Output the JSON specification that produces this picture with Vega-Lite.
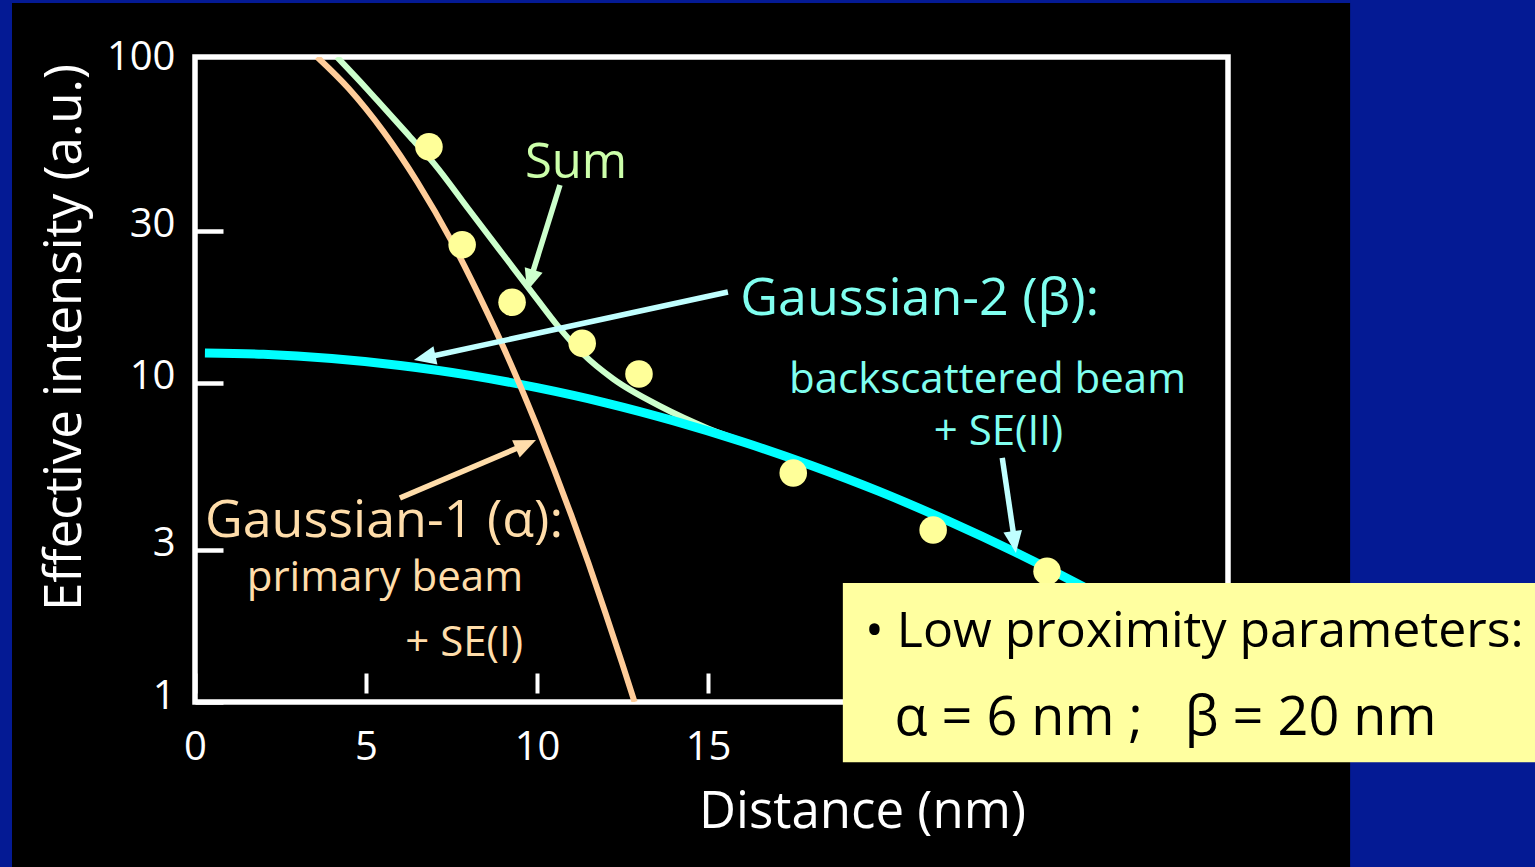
{
  "$schema": "https://vega.github.io/schema/vega-lite/v6.json",
  "width": 1033,
  "height": 645,
  "autosize": {"type": "none"},
  "padding": {"left": 195, "top": 57, "right": 307, "bottom": 165},
  "background": "#000000",
  "config": {
    "view": {"stroke": "#FFFFFF", "strokeWidth": 5.5},
    "font": "Open Sans",
    "axis": {
      "grid": false, "domain": false, "ticks": true, "tickSize": 28, "tickColor": "#FFFFFF",
      "labelColor": "#FFFFFF", "labelFont": "Open Sans", "labelFontSize": 40, "labelFlush": false, "labelOverlap": false,
      "titleColor": "#FFFFFF", "titleFont": "Open Sans", "titleFontSize": 51, "titleFontWeight": "normal"
    }
  },
  "datasets": {
    "curves": [
      {"series": "Sum", "x": 4.15, "y": 105},
      {"series": "Sum", "x": 5.0, "y": 84},
      {"series": "Sum", "x": 5.32, "y": 77},
      {"series": "Sum", "x": 6.29, "y": 59},
      {"series": "Sum", "x": 7.0, "y": 48.5},
      {"series": "Sum", "x": 8.0, "y": 35},
      {"series": "Sum", "x": 9.0, "y": 25.3},
      {"series": "Sum", "x": 10.0, "y": 18.3},
      {"series": "Sum", "x": 10.58, "y": 15.2},
      {"series": "Sum", "x": 11.35, "y": 12.3},
      {"series": "Sum", "x": 12.22, "y": 10.3},
      {"series": "Sum", "x": 13.6, "y": 8.45},
      {"series": "Sum", "x": 15.0, "y": 7.2},
      {"series": "Sum", "x": 16.5, "y": 6.3},
      {"series": "Sum", "x": 18.0, "y": 5.55},
      {"series": "Sum", "x": 20.0, "y": 4.58},
      {"series": "Sum", "x": 22.0, "y": 3.71},
      {"series": "Sum", "x": 24.0, "y": 2.95},
      {"series": "Sum", "x": 26.0, "y": 2.3},
      {"series": "Gaussian-1", "x": 3.57, "y": 105},
      {"series": "Gaussian-1", "x": 4.5, "y": 83.5},
      {"series": "Gaussian-1", "x": 5.5, "y": 61.5},
      {"series": "Gaussian-1", "x": 6.5, "y": 42.6},
      {"series": "Gaussian-1", "x": 7.5, "y": 27.8},
      {"series": "Gaussian-1", "x": 8.5, "y": 17.0},
      {"series": "Gaussian-1", "x": 9.0, "y": 13.05},
      {"series": "Gaussian-1", "x": 9.5, "y": 9.84},
      {"series": "Gaussian-1", "x": 10.0, "y": 7.3},
      {"series": "Gaussian-1", "x": 10.5, "y": 5.34},
      {"series": "Gaussian-1", "x": 11.0, "y": 3.85},
      {"series": "Gaussian-1", "x": 11.5, "y": 2.73},
      {"series": "Gaussian-1", "x": 12.0, "y": 1.9},
      {"series": "Gaussian-1", "x": 12.5, "y": 1.31},
      {"series": "Gaussian-1", "x": 12.85, "y": 1.0},
      {"series": "Gaussian-2", "x": 0.29, "y": 12.41},
      {"series": "Gaussian-2", "x": 2.0, "y": 12.29},
      {"series": "Gaussian-2", "x": 4.0, "y": 11.92},
      {"series": "Gaussian-2", "x": 6.0, "y": 11.34},
      {"series": "Gaussian-2", "x": 8.0, "y": 10.58},
      {"series": "Gaussian-2", "x": 10.0, "y": 9.66},
      {"series": "Gaussian-2", "x": 12.0, "y": 8.66},
      {"series": "Gaussian-2", "x": 14.0, "y": 7.6},
      {"series": "Gaussian-2", "x": 16.0, "y": 6.54},
      {"series": "Gaussian-2", "x": 18.0, "y": 5.52},
      {"series": "Gaussian-2", "x": 20.0, "y": 4.57},
      {"series": "Gaussian-2", "x": 22.0, "y": 3.7},
      {"series": "Gaussian-2", "x": 24.0, "y": 2.94},
      {"series": "Gaussian-2", "x": 26.0, "y": 2.29},
      {"series": "Gaussian-2", "x": 28.0, "y": 1.75},
      {"series": "Gaussian-2", "x": 30.2, "y": 1.27}
    ],
    "points": [
      {"x": 6.84, "y": 54.9},
      {"x": 7.81, "y": 27.1},
      {"x": 9.27, "y": 17.9},
      {"x": 11.32, "y": 13.3},
      {"x": 12.98, "y": 10.66},
      {"x": 17.49, "y": 5.22},
      {"x": 21.58, "y": 3.46},
      {"x": 24.91, "y": 2.57}
    ],
    "arrows": [
      {"name": "sum", "x": 10.67, "y": 41.7, "x2": 9.81, "y2": 21.1},
      {"name": "g2", "x": 15.58, "y": 19.27, "x2": 6.75, "y2": 12.01},
      {"name": "g1", "x": 5.99, "y": 4.36, "x2": 9.65, "y2": 6.4},
      {"name": "bs", "x": 23.6, "y": 5.82, "x2": 23.96, "y2": 3.19}
    ],
    "heads": [
      {"name": "sum", "x": 9.71, "y": 19.41},
      {"name": "g2", "x": 6.4, "y": 11.8},
      {"name": "g1", "x": 9.97, "y": 6.62},
      {"name": "bs", "x": 24.0, "y": 2.93}
    ],
    "labels": [
      {"kind": "sum", "label": "Sum", "x": 11.14, "y": 43.9},
      {"kind": "g2", "label": "Gaussian-2 (β):", "x": 15.94, "y": 16.32},
      {"kind": "g2sub", "label": "backscattered beam", "x": 23.17, "y": 9.3},
      {"kind": "g2sub", "label": "+ SE(II)", "x": 23.49, "y": 6.39},
      {"kind": "g1", "label": "Gaussian-1 (α):", "x": 0.29, "y": 3.29},
      {"kind": "g1sub", "label": "primary beam", "x": 9.59, "y": 2.22},
      {"kind": "g1sub", "label": "+ SE(I)", "x": 9.59, "y": 1.39},
      {"kind": "box", "label": "• Low proximity parameters:", "x": 19.59, "y": 1.487},
      {"kind": "box2", "label": "α = 6 nm ;\u00a0\u00a0 β = 20 nm", "x": 20.45, "y": 0.788}
    ]
  },
  "layer": [
    {
      "data": {"name": "curves"},
      "transform": [{"filter": "datum.series == 'Sum'"}],
      "mark": {"type": "line", "color": "#CCFFCC", "strokeWidth": 6, "interpolate": "monotone", "clip": true},
      "encoding": {
        "x": {"field": "x", "type": "quantitative", "scale": {"domain": [0, 30.2], "nice": false, "zero": false},
          "axis": {
            "values": [0, 5, 10, 15, 20, 25, 30], "offset": -29, "tickSize": 20, "tickWidth": 4,
            "labelPadding": 34, "labelBaseline": "top", "format": "d",
            "title": "Distance (nm)", "titleX": 667, "titleY": 154, "titleAlign": "center", "titleBaseline": "alphabetic"
          }},
        "y": {"field": "y", "type": "quantitative", "scale": {"type": "log", "domain": [1, 105], "nice": false},
          "axis": {
            "values": [1, 3, 10, 30, 100], "offset": -28, "tickWidth": 4.5,
            "tickColor": {"condition": {"test": "datum.value >= 100", "value": "transparent"}, "value": "#FFFFFF"},
            "labelPadding": 20, "labelOffset": -6, "labelBaseline": "middle", "labelAlign": "right", "format": "d",
            "title": "Effective intensity (a.u.)", "titleAngle": -90, "titleX": -158, "titleY": 280, "titleAlign": "center", "titleBaseline": "middle"
          }}
      }
    },
    {
      "data": {"values": [{"k": 1}]},
      "mark": {"type": "rect", "color": "#041A94"},
      "encoding": {
        "x": {"datum": -10, "type": "quantitative", "scale": {"domain": [0, 30.2], "nice": false, "zero": false}},
        "x2": {"datum": -5.35},
        "y": {"datum": 0.2, "type": "quantitative", "scale": {"type": "log", "domain": [1, 105], "nice": false}},
        "y2": {"datum": 300}
      }
    },
    {
      "data": {"values": [{"k": 1}]},
      "mark": {"type": "rect", "color": "#041A94"},
      "encoding": {
        "x": {"datum": -10, "type": "quantitative", "scale": {"domain": [0, 30.2], "nice": false, "zero": false}},
        "x2": {"datum": 45},
        "y": {"datum": 155, "type": "quantitative", "scale": {"type": "log", "domain": [1, 105], "nice": false}},
        "y2": {"datum": 300}
      }
    },
    {
      "data": {"values": [{"k": 1}]},
      "mark": {"type": "rect", "color": "#041A94"},
      "encoding": {
        "x": {"datum": 33.77, "type": "quantitative", "scale": {"domain": [0, 30.2], "nice": false, "zero": false}},
        "x2": {"datum": 45},
        "y": {"datum": 0.2, "type": "quantitative", "scale": {"type": "log", "domain": [1, 105], "nice": false}},
        "y2": {"datum": 300}
      }
    },
    {
      "data": {"name": "curves"},
      "transform": [{"filter": "datum.series == 'Gaussian-2'"}],
      "mark": {"type": "line", "color": "#00FFFF", "strokeWidth": 9, "interpolate": "monotone", "clip": true},
      "encoding": {
        "x": {"field": "x", "type": "quantitative", "scale": {"domain": [0, 30.2], "nice": false, "zero": false}},
        "y": {"field": "y", "type": "quantitative", "scale": {"type": "log", "domain": [1, 105], "nice": false}}
      }
    },
    {
      "data": {"name": "curves"},
      "transform": [{"filter": "datum.series == 'Gaussian-1'"}],
      "mark": {"type": "line", "color": "#FFCC99", "strokeWidth": 6, "interpolate": "monotone", "clip": true},
      "encoding": {
        "x": {"field": "x", "type": "quantitative", "scale": {"domain": [0, 30.2], "nice": false, "zero": false}},
        "y": {"field": "y", "type": "quantitative", "scale": {"type": "log", "domain": [1, 105], "nice": false}}
      }
    },
    {
      "data": {"name": "arrows"},
      "transform": [{"filter": "datum.name == 'sum'"}],
      "mark": {"type": "rule", "color": "#CCFFCC", "strokeWidth": 5.5},
      "encoding": {
        "x": {"field": "x", "type": "quantitative", "scale": {"domain": [0, 30.2], "nice": false, "zero": false}},
        "y": {"field": "y", "type": "quantitative", "scale": {"type": "log", "domain": [1, 105], "nice": false}},
        "x2": {"field": "x2"}, "y2": {"field": "y2"}
      }
    },
    {
      "data": {"name": "arrows"},
      "transform": [{"filter": "datum.name == 'g2' || datum.name == 'bs'"}],
      "mark": {"type": "rule", "color": "#C0FFFF", "strokeWidth": 5.5},
      "encoding": {
        "x": {"field": "x", "type": "quantitative", "scale": {"domain": [0, 30.2], "nice": false, "zero": false}},
        "y": {"field": "y", "type": "quantitative", "scale": {"type": "log", "domain": [1, 105], "nice": false}},
        "x2": {"field": "x2"}, "y2": {"field": "y2"}
      }
    },
    {
      "data": {"name": "arrows"},
      "transform": [{"filter": "datum.name == 'g1'"}],
      "mark": {"type": "rule", "color": "#FFDDAA", "strokeWidth": 5.5},
      "encoding": {
        "x": {"field": "x", "type": "quantitative", "scale": {"domain": [0, 30.2], "nice": false, "zero": false}},
        "y": {"field": "y", "type": "quantitative", "scale": {"type": "log", "domain": [1, 105], "nice": false}},
        "x2": {"field": "x2"}, "y2": {"field": "y2"}
      }
    },
    {
      "data": {"name": "heads"},
      "transform": [{"filter": "datum.name == 'sum'"}],
      "mark": {"type": "point", "shape": "M0,0L-0.85,2L0.85,2Z", "filled": true, "opacity": 1, "size": 484, "color": "#CCFFCC", "angle": 197.3},
      "encoding": {
        "x": {"field": "x", "type": "quantitative", "scale": {"domain": [0, 30.2], "nice": false, "zero": false}},
        "y": {"field": "y", "type": "quantitative", "scale": {"type": "log", "domain": [1, 105], "nice": false}}
      }
    },
    {
      "data": {"name": "heads"},
      "transform": [{"filter": "datum.name == 'g2'"}],
      "mark": {"type": "point", "shape": "M0,0L-0.85,2L0.85,2Z", "filled": true, "opacity": 1, "size": 484, "color": "#C0FFFF", "angle": 257.8},
      "encoding": {
        "x": {"field": "x", "type": "quantitative", "scale": {"domain": [0, 30.2], "nice": false, "zero": false}},
        "y": {"field": "y", "type": "quantitative", "scale": {"type": "log", "domain": [1, 105], "nice": false}}
      }
    },
    {
      "data": {"name": "heads"},
      "transform": [{"filter": "datum.name == 'g1'"}],
      "mark": {"type": "point", "shape": "M0,0L-0.85,2L0.85,2Z", "filled": true, "opacity": 1, "size": 484, "color": "#FFDDAA", "angle": 66.2},
      "encoding": {
        "x": {"field": "x", "type": "quantitative", "scale": {"domain": [0, 30.2], "nice": false, "zero": false}},
        "y": {"field": "y", "type": "quantitative", "scale": {"type": "log", "domain": [1, 105], "nice": false}}
      }
    },
    {
      "data": {"name": "heads"},
      "transform": [{"filter": "datum.name == 'bs'"}],
      "mark": {"type": "point", "shape": "M0,0L-0.85,2L0.85,2Z", "filled": true, "opacity": 1, "size": 484, "color": "#C0FFFF", "angle": 171.6},
      "encoding": {
        "x": {"field": "x", "type": "quantitative", "scale": {"domain": [0, 30.2], "nice": false, "zero": false}},
        "y": {"field": "y", "type": "quantitative", "scale": {"type": "log", "domain": [1, 105], "nice": false}}
      }
    },
    {
      "data": {"name": "points"},
      "mark": {"type": "point", "shape": "circle", "filled": true, "opacity": 1, "size": 760, "color": "#FFFF99"},
      "encoding": {
        "x": {"field": "x", "type": "quantitative", "scale": {"domain": [0, 30.2], "nice": false, "zero": false}},
        "y": {"field": "y", "type": "quantitative", "scale": {"type": "log", "domain": [1, 105], "nice": false}}
      }
    },
    {
      "data": {"name": "labels"},
      "transform": [{"filter": "datum.kind == 'sum'"}],
      "mark": {"type": "text", "font": "Open Sans", "fontSize": 49, "color": "#CCFFAA", "align": "center", "baseline": "alphabetic"},
      "encoding": {
        "x": {"field": "x", "type": "quantitative", "scale": {"domain": [0, 30.2], "nice": false, "zero": false}},
        "y": {"field": "y", "type": "quantitative", "scale": {"type": "log", "domain": [1, 105], "nice": false}},
        "text": {"field": "label"}
      }
    },
    {
      "data": {"name": "labels"},
      "transform": [{"filter": "datum.kind == 'g2'"}],
      "mark": {"type": "text", "font": "Open Sans", "fontSize": 52, "color": "#80FFF0", "align": "left", "baseline": "alphabetic"},
      "encoding": {
        "x": {"field": "x", "type": "quantitative", "scale": {"domain": [0, 30.2], "nice": false, "zero": false}},
        "y": {"field": "y", "type": "quantitative", "scale": {"type": "log", "domain": [1, 105], "nice": false}},
        "text": {"field": "label"}
      }
    },
    {
      "data": {"name": "labels"},
      "transform": [{"filter": "datum.kind == 'g2sub'"}],
      "mark": {"type": "text", "font": "Open Sans", "fontSize": 42, "color": "#80FFF0", "align": "center", "baseline": "alphabetic"},
      "encoding": {
        "x": {"field": "x", "type": "quantitative", "scale": {"domain": [0, 30.2], "nice": false, "zero": false}},
        "y": {"field": "y", "type": "quantitative", "scale": {"type": "log", "domain": [1, 105], "nice": false}},
        "text": {"field": "label"}
      }
    },
    {
      "data": {"name": "labels"},
      "transform": [{"filter": "datum.kind == 'g1'"}],
      "mark": {"type": "text", "font": "Open Sans", "fontSize": 52, "color": "#FFDDAA", "align": "left", "baseline": "alphabetic"},
      "encoding": {
        "x": {"field": "x", "type": "quantitative", "scale": {"domain": [0, 30.2], "nice": false, "zero": false}},
        "y": {"field": "y", "type": "quantitative", "scale": {"type": "log", "domain": [1, 105], "nice": false}},
        "text": {"field": "label"}
      }
    },
    {
      "data": {"name": "labels"},
      "transform": [{"filter": "datum.kind == 'g1sub'"}],
      "mark": {"type": "text", "font": "Open Sans", "fontSize": 42, "color": "#FFDDAA", "align": "right", "baseline": "alphabetic"},
      "encoding": {
        "x": {"field": "x", "type": "quantitative", "scale": {"domain": [0, 30.2], "nice": false, "zero": false}},
        "y": {"field": "y", "type": "quantitative", "scale": {"type": "log", "domain": [1, 105], "nice": false}},
        "text": {"field": "label"}
      }
    },
    {
      "data": {"values": [{"k": 1}]},
      "mark": {"type": "rect", "color": "#FFFFA0"},
      "encoding": {
        "x": {"datum": 18.94, "type": "quantitative", "scale": {"domain": [0, 30.2], "nice": false, "zero": false}},
        "x2": {"datum": 45},
        "y": {"datum": 0.648, "type": "quantitative", "scale": {"type": "log", "domain": [1, 105], "nice": false}},
        "y2": {"datum": 2.36}
      }
    },
    {
      "data": {"name": "labels"},
      "transform": [{"filter": "datum.kind == 'box'"}],
      "mark": {"type": "text", "font": "Open Sans", "fontSize": 50, "color": "#000000", "align": "left", "baseline": "alphabetic"},
      "encoding": {
        "x": {"field": "x", "type": "quantitative", "scale": {"domain": [0, 30.2], "nice": false, "zero": false}},
        "y": {"field": "y", "type": "quantitative", "scale": {"type": "log", "domain": [1, 105], "nice": false}},
        "text": {"field": "label"}
      }
    },
    {
      "data": {"name": "labels"},
      "transform": [{"filter": "datum.kind == 'box2'"}],
      "mark": {"type": "text", "font": "Open Sans", "fontSize": 54, "color": "#000000", "align": "left", "baseline": "alphabetic"},
      "encoding": {
        "x": {"field": "x", "type": "quantitative", "scale": {"domain": [0, 30.2], "nice": false, "zero": false}},
        "y": {"field": "y", "type": "quantitative", "scale": {"type": "log", "domain": [1, 105], "nice": false}},
        "text": {"field": "label"}
      }
    }
  ]
}
